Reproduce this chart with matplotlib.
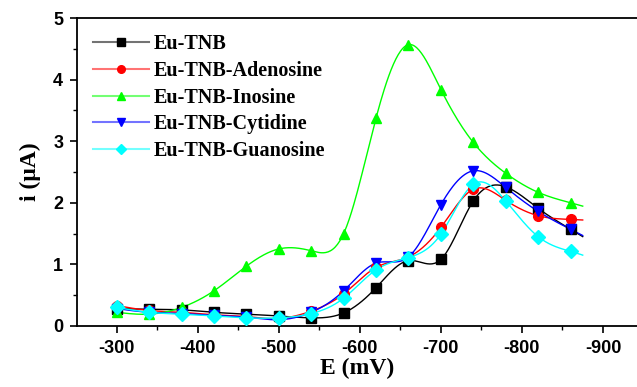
import numpy as np
import matplotlib.pyplot as plt
from matplotlib.lines import Line2D
from matplotlib.ticker import MultipleLocator

plt.rcParams['axes.unicode_minus'] = False

# potenciais (mV) e correntes (uA)
E = [-300, -340, -380, -420, -460, -500, -540, -580, -620, -660, -700, -740, -780, -820, -860]
tnb = [0.28, 0.27, 0.26, 0.22, 0.19, 0.16, 0.13, 0.21, 0.62, 1.06, 1.08, 2.03, 2.26, 1.91, 1.57]
adenosina = [0.33, 0.25, 0.22, 0.18, 0.15, 0.12, 0.24, 0.52, 0.95, 1.12, 1.60, 2.22, 2.04, 1.79, 1.73]
inosina = [0.22, 0.19, 0.30, 0.57, 0.97, 1.25, 1.22, 1.50, 3.38, 4.57, 3.84, 2.98, 2.48, 2.17, 2.00]
citidina = [0.28, 0.22, 0.20, 0.17, 0.14, 0.10, 0.22, 0.57, 1.02, 1.12, 1.97, 2.52, 2.25, 1.86, 1.57]
guanosina = [0.30, 0.22, 0.19, 0.16, 0.13, 0.13, 0.20, 0.45, 0.91, 1.11, 1.49, 2.30, 2.03, 1.45, 1.21]

series = [
    ("Eu-TNB", tnb, "black", "s"),
    ("Eu-TNB-Adenosine", adenosina, "red", "o"),
    ("Eu-TNB-Inosine", inosina, "#00ff00", "^"),
    ("Eu-TNB-Cytidine", citidina, "blue", "v"),
    ("Eu-TNB-Guanosine", guanosina, "cyan", "D"),
]


def spline(x, y, xs):
    # spline cubica natural
    x = np.asarray(x, float)
    y = np.asarray(y, float)
    n = len(x)
    h = np.diff(x)
    A = np.zeros((n, n))
    r = np.zeros(n)
    A[0, 0] = A[-1, -1] = 1
    for i in range(1, n - 1):
        A[i, i - 1] = h[i - 1]
        A[i, i] = 2 * (h[i - 1] + h[i])
        A[i, i + 1] = h[i]
        r[i] = 3 * ((y[i + 1] - y[i]) / h[i] - (y[i] - y[i - 1]) / h[i - 1])
    c = np.linalg.solve(A, r)
    b = (y[1:] - y[:-1]) / h - h * (2 * c[:-1] + c[1:]) / 3
    d = (c[1:] - c[:-1]) / (3 * h)
    idx = np.clip(np.searchsorted(x, xs) - 1, 0, n - 2)
    dx = xs - x[idx]
    return y[idx] + b[idx] * dx + c[idx] * dx ** 2 + d[idx] * dx ** 3


fig = plt.figure(figsize=(6.37, 3.87), dpi=100)
ax = fig.add_axes([0.121, 0.158, 0.879, 0.795])

u = -np.array(E, float)
uu = np.linspace(u[0], 875, 400)
handles = []
nomes = []
for nome, vals, cor, mk in series:
    yy = spline(u, vals, uu)
    ax.plot(-uu, yy, color=cor, lw=1.0, zorder=2)
    ax.plot(E, vals, linestyle='none', marker=mk, color=cor, ms=7, zorder=3)
    # na legenda a linha fica mais clara e o marcador menor
    h1 = Line2D([], [], color=cor, lw=1.5, alpha=0.55)
    h2 = Line2D([], [], color=cor, linestyle='none', marker=mk, ms=5.5)
    handles.append((h1, h2))
    nomes.append(nome)

ax.set_xlim(-251, -942)
ax.set_ylim(0, 5)
ax.xaxis.set_major_locator(MultipleLocator(100))
ax.xaxis.set_minor_locator(MultipleLocator(50))
ax.yaxis.set_major_locator(MultipleLocator(1))
ax.yaxis.set_minor_locator(MultipleLocator(0.5))
ax.tick_params(which='major', direction='out', length=5, width=1.2, pad=5)
ax.tick_params(which='minor', direction='out', length=3, width=1.0)
ax.tick_params(top=False, right=False)
for s in ['left', 'bottom', 'top']:
    ax.spines[s].set_linewidth(1.3)
ax.spines['right'].set_visible(False)

ax.set_xticks([-300, -400, -500, -600, -700, -800, -900])
ax.set_xticklabels(['-300', '-400', '-500', '-600', '-700', '-800', '-900'],
                   fontfamily='Liberation Sans', fontweight='bold', fontsize=13)
ax.set_yticks([0, 1, 2, 3, 4, 5])
ax.set_yticklabels(['0', '1', '2', '3', '4', '5'],
                   fontfamily='Liberation Sans', fontweight='bold', fontsize=13)

ax.set_xlabel('E (mV)', fontfamily='Liberation Serif', fontweight='bold', fontsize=17, labelpad=1)
ax.set_ylabel('i (μA)', fontfamily='Liberation Serif', fontweight='bold', fontsize=17, labelpad=9)

ax.legend(handles, nomes, loc='upper left', bbox_to_anchor=(0.0, 1.0), frameon=False,
          prop={'family': 'Liberation Serif', 'weight': 'bold', 'size': 14.5},
          handlelength=2.75, handletextpad=0.25, labelspacing=0.33, borderaxespad=0.45,
          borderpad=0.35)

fig.savefig('out.png', dpi=100)
